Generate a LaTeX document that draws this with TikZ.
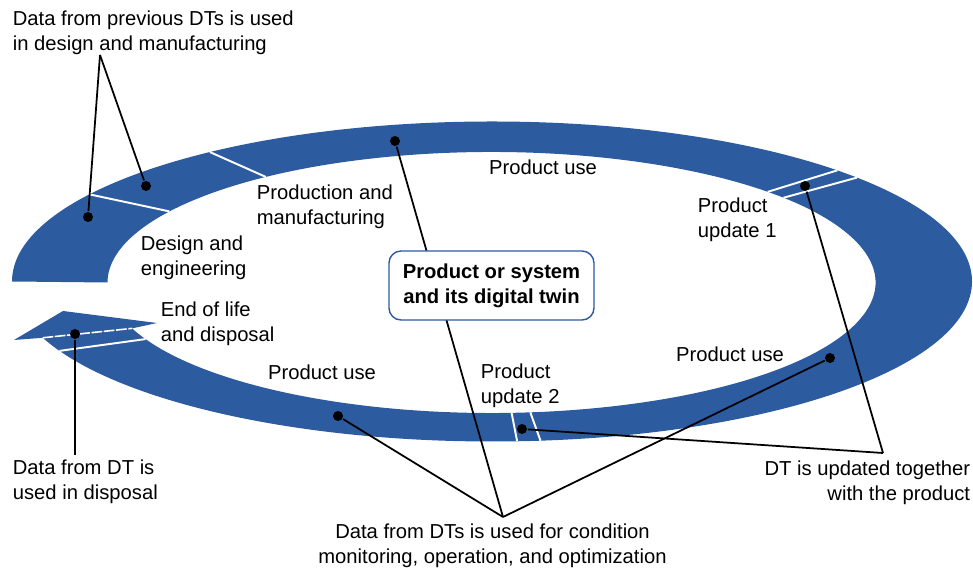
\documentclass[tikz,border=0pt]{standalone}
\usepackage{fontspec}
\setmainfont{Liberation Sans}
\usetikzlibrary{calc}
\definecolor{ringblue}{RGB}{44,91,160}

\begin{document}
\begin{tikzpicture}[line width=1pt,
    every node/.style={font=\fontsize{11.5}{14.2}\selectfont},
    dot/.style={circle, fill=black, inner sep=0pt, minimum size=0.2cm},
    divider/.style={white, line width=1.1pt},
    lbl/.style={align=left, anchor=west, inner sep=0pt}]
\useasboundingbox (0,0) rectangle (19.46,11.38);
\coordinate (oc) at (9.84,5.75);
\coordinate (ic) at (9.83,5.73);
\coordinate (oend) at ($(oc)+(-159.4:9.6 and 3.2)$);
\coordinate (iend) at ($(ic)+(-159.4:7.68 and 2.61)$);

% ring with its arrow end
\fill[ringblue] ($(oc)+(180:9.6 and 3.2)$) arc[start angle=180, end angle=-159.4, x radius=9.6, y radius=3.2]
    -- (iend) arc[start angle=-159.4, end angle=180, x radius=7.68, y radius=2.61] -- cycle;
\fill[ringblue] (oend) -- (0.28,4.58) -- (1.26,5.16) -- (3.14,4.92) -- (iend) -- cycle;
\draw[divider, line width=0.9pt, dash pattern=on 6pt off 1pt] (oend) -- (iend);
\foreach \t in {147,126,44,40.5,-84.2,-87,-154.3}
    \draw[divider] ($(oc)+(\t:9.6 and 3.2)$) -- ($(ic)+(\t:7.68 and 2.61)$);

% dots on the ring
\node[dot] (d-design) at (1.76,7.04) {};
\node[dot] (d-prod) at (2.92,7.66) {};
\node[dot] (d-usetop) at (7.90,8.56) {};
\node[dot] (d-upd1) at (16.10,7.66) {};
\node[dot] (d-useright) at (16.60,4.22) {};
\node[dot] (d-upd2) at (10.44,2.80) {};
\node[dot] (d-useleft) at (6.76,3.06) {};
\node[dot] (d-disp) at (1.50,4.70) {};

\coordinate (a-prev) at (2.00,10.28);
\coordinate (a-disp) at (1.50,2.28);
\coordinate (a-upd) at (17.66,2.32);
\coordinate (a-cond) at (10.06,1.04);

\draw (a-prev) -- (d-design);
\draw (a-prev) -- (d-prod);
\draw (a-disp) -- (d-disp);
\draw (a-upd) -- (d-upd1);
\draw (a-upd) -- (d-upd2);
\draw (a-cond) -- (d-usetop);
\draw (a-cond) -- (d-useleft);
\draw (a-cond) -- (d-useright);

% centre box
\node[draw=ringblue, fill=white, rounded corners=0.24cm, line width=0.8pt, minimum width=4.1cm, minimum height=1.38cm,
    align=center, font=\bfseries\fontsize{11.5}{14.2}\selectfont] (twin) at (9.83,5.67) {Product or system\\and its digital twin};

% phase labels
\node[lbl] (l-design) at (2.80,6.22) {Design and\\engineering};
\node[lbl] (l-prod) at (5.12,7.24) {Production and\\manufacturing};
\node (l-usetop) at (10.86,8.04) {Product use};
\node[lbl] (l-upd1) at (13.94,6.98) {Product\\update 1};
\node (l-useright) at (14.60,4.30) {Product use};
\node[lbl] (l-upd2) at (9.60,3.66) {Product\\update 2};
\node (l-useleft) at (6.44,3.94) {Product use};
\node[lbl] (l-eol) at (3.20,4.91) {End of life\\and disposal};

% notes
\node[lbl] (n-prev) at (0.24,10.73) {Data from previous DTs is used\\in design and manufacturing};
\node[lbl] (n-disp) at (0.24,1.74) {Data from DT is\\used in disposal};
\node[align=right, anchor=east, inner sep=0pt] (n-upd) at (19.42,1.72) {DT is updated together\\with the product};
\node[align=center, inner sep=0pt] (n-cond) at (9.85,0.46) {Data from DTs is used for condition\\monitoring, operation, and optimization};
\end{tikzpicture}
\end{document}
